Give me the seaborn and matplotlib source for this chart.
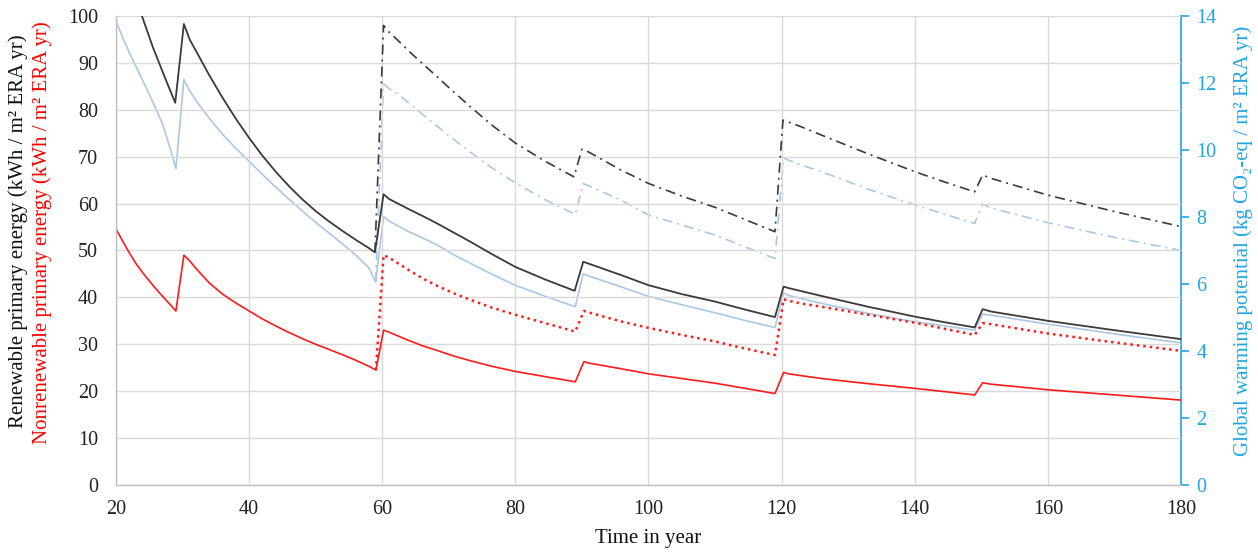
import seaborn as sns
import matplotlib.pyplot as plt

# renewable primary energy (left axis, kWh / m2 ERA yr)
ren_x = [23.9, 25.5, 27.6, 28.9, 30.2, 31.1, 32, 34, 36, 38, 40, 42, 44, 46, 48, 50, 52, 54, 56, 58,
         58.9, 60.2, 61, 64, 66, 68.2, 70.5, 73.2, 76.5, 80, 84.5, 88.9, 90.2, 91, 95.8, 100, 105,
         110, 114.5, 119, 120.3, 121, 126, 133, 140, 144.5, 149, 150.2, 151.4, 160, 170, 180]
ren_y = [100, 93.5, 86.0, 81.5, 98.3, 94.9, 92.6, 87.4, 82.6, 78.1, 74.0, 70.2, 66.8, 63.7, 60.9,
         58.4, 56.2, 54.2, 52.3, 50.5, 49.6, 62.0, 61.0, 58.8, 57.4, 55.8, 54.0, 51.9, 49.2, 46.5,
         43.8, 41.4, 47.6, 47.2, 44.8, 42.6, 40.7, 39.1, 37.4, 35.8, 42.3, 42.0, 40.3, 38.0, 35.9,
         34.7, 33.6, 37.5, 37.0, 35.0, 33.0, 31.1]

# renewable primary energy, second scenario (dash-dot)
ren2_x = [58.9, 60.2, 61, 62.5, 64, 66, 68.2, 70.5, 73.2, 76.5, 80, 84.5, 88.8, 90.0, 91, 95.8,
          100, 105, 110, 114.5, 119, 120.2, 121, 122.9, 126, 133, 140, 144.5, 149, 150.2, 151.4,
          160, 170, 180]
ren2_y = [49.6, 98.0, 96.6, 94.6, 92.5, 89.9, 87.1, 84.1, 80.7, 76.7, 72.9, 69.0, 65.7, 71.6, 71.0,
          67.2, 64.3, 61.6, 59.2, 56.6, 54.0, 77.8, 77.4, 76.4, 74.6, 70.6, 66.8, 64.6, 62.5, 66.1,
          65.4, 61.8, 58.3, 55.1]

# nonrenewable primary energy (left axis)
nren_x = [20, 21, 22, 23, 24.1, 25.3, 26.5, 27.8, 29.0, 30.2, 31, 32, 34, 36, 38, 40, 42, 44, 46,
          48, 50, 52, 54, 56, 58, 59.05, 60.2, 61, 64, 66, 68.2, 70.5, 73.2, 76.5, 80, 84.5, 89.0,
          90.3, 91, 95.8, 100, 105, 110, 114.5, 119, 120.3, 121, 126, 133, 140, 144.5, 149, 150.2,
          151.4, 160, 170, 180]
nren_y = [54.6, 52.0, 49.5, 47.2, 45.1, 43.0, 41.0, 39.0, 37.1, 49.0, 47.9, 46.2, 43.1, 40.7, 38.8,
          37.1, 35.4, 33.9, 32.5, 31.2, 30.0, 28.9, 27.8, 26.6, 25.3, 24.5, 33.0, 32.6, 30.8, 29.7,
          28.7, 27.6, 26.5, 25.3, 24.2, 23.1, 22.0, 26.3, 26.0, 24.8, 23.7, 22.7, 21.7, 20.6, 19.5,
          24.0, 23.7, 22.7, 21.6, 20.6, 19.9, 19.2, 21.8, 21.5, 20.3, 19.2, 18.1]

# nonrenewable primary energy, second scenario (dotted)
nren2_x = [59.05, 60.2, 61, 64, 66, 68.2, 70.5, 73.2, 76.5, 80, 84.5, 89.0, 90.3, 91, 95.8, 100,
           105, 110, 114.5, 119, 120.3, 121, 122.9, 126, 133, 140, 144.5, 149, 150.2, 151.4, 160,
           170, 180]
nren2_y = [24.5, 49.0, 48.5, 45.8, 44.1, 42.5, 41.0, 39.5, 37.8, 36.3, 34.5, 32.7, 37.1, 36.8, 34.9,
           33.5, 32.0, 30.6, 29.1, 27.7, 39.6, 39.3, 38.7, 38.0, 36.3, 34.6, 33.3, 32.0, 34.5, 34.3,
           32.3, 30.4, 28.6]

# global warming potential (right axis, kg CO2-eq / m2 ERA yr)
gwp_x = [20, 21, 22, 23, 24, 25, 26, 27, 28.3, 29.0, 30.2, 31, 32, 34, 36, 38, 40, 42, 44, 46, 48,
         50, 52, 54, 56, 58, 59.0, 60.2, 61, 64, 66, 68.2, 70.5, 73.2, 76.5, 80, 84.5, 89.0, 90.2,
         91, 95.8, 100, 105, 110, 114.5, 119, 120.3, 121, 126, 133, 140, 144.5, 149, 150.2, 151.4,
         160, 170, 180]
gwp_y = [13.86, 13.36, 12.91, 12.49, 12.08, 11.66, 11.23, 10.77, 9.94, 9.45, 12.10, 11.79, 11.48,
         10.95, 10.47, 10.05, 9.66, 9.27, 8.89, 8.53, 8.18, 7.84, 7.52, 7.20, 6.87, 6.48, 6.06,
         8.01, 7.88, 7.56, 7.38, 7.17, 6.90, 6.62, 6.29, 5.96, 5.63, 5.32, 6.31, 6.24, 5.92, 5.63,
         5.38, 5.14, 4.91, 4.70, 5.73, 5.66, 5.42, 5.12, 4.87, 4.75, 4.62, 5.10, 5.07, 4.80, 4.51,
         4.24]

# global warming potential, second scenario (dash-dot)
gwp2_x = [59.0, 60.2, 61, 62.5, 64, 66, 68.2, 70.5, 73.2, 76.5, 80, 84.5, 89.0, 90.2, 91, 95.8,
          100, 105, 110, 114.5, 119, 120.3, 121, 122.9, 126, 133, 140, 144.5, 149, 150.2, 151.4,
          160, 170, 180]
gwp2_y = [6.06, 11.97, 11.84, 11.65, 11.40, 11.07, 10.72, 10.35, 9.94, 9.46, 9.02, 8.51, 8.08, 9.00,
          8.93, 8.51, 8.06, 7.76, 7.46, 7.11, 6.76, 9.76, 9.70, 9.55, 9.35, 8.83, 8.36, 8.08, 7.81,
          8.39, 8.27, 7.83, 7.39, 7.00]

sns.set_theme(style="whitegrid")
plt.rcParams["font.family"] = ["Liberation Serif", "DejaVu Serif"]

BLACK = "#3a3a3a"
LBLUE = "#a9c8e8"
RED = "#ff1a1a"
SKY = "#1ea6e6"
FS = 14.5

fig = plt.figure(figsize=(12.58, 5.57), dpi=100)
ax = fig.add_axes([0.0922, 0.1293, 0.8466, 0.842])
ax2 = ax.twinx()

# right axis series
sns.lineplot(x=gwp2_x, y=gwp2_y, ax=ax2, color=LBLUE, linewidth=1.2, estimator=None, sort=False)
ax2.lines[-1].set_dashes([6, 3, 1.2, 3])
sns.lineplot(x=gwp_x, y=gwp_y, ax=ax2, color=LBLUE, linewidth=1.2, estimator=None, sort=False)

# left axis series drawn on top
ax.set_zorder(ax2.get_zorder() + 1)
ax.patch.set_visible(False)
sns.lineplot(x=nren2_x, y=nren2_y, ax=ax, color=RED, linewidth=1.8, estimator=None, sort=False)
ax.lines[-1].set_dashes([1, 1.6])
sns.lineplot(x=nren_x, y=nren_y, ax=ax, color=RED, linewidth=1.2, estimator=None, sort=False)
sns.lineplot(x=ren2_x, y=ren2_y, ax=ax, color=BLACK, linewidth=1.2, estimator=None, sort=False)
ax.lines[-1].set_dashes([6, 3, 1.2, 3])
sns.lineplot(x=ren_x, y=ren_y, ax=ax, color=BLACK, linewidth=1.3, estimator=None, sort=False)

ax.set_xlim(20, 180)
ax.set_ylim(0, 100)
ax.set_xticks(range(20, 181, 20))
ax.set_yticks(range(0, 101, 10))
ax.grid(True, color="#d9d9d9", linewidth=1.0)
ax.tick_params(axis="x", length=0, labelsize=FS, colors="#222222", pad=11)
ax.tick_params(axis="y", length=0, labelsize=FS, colors="#222222", pad=13)
for s in ["top", "right"]:
    ax.spines[s].set_visible(False)
for s in ["left", "bottom"]:
    ax.spines[s].set_color("#bfbfbf")
    ax.spines[s].set_linewidth(1.0)

ax2.set_ylim(0, 14)
ax2.set_yticks(range(0, 15, 2))
ax2.grid(False)
ax2.tick_params(axis="y", colors=SKY, labelcolor=SKY, length=6, width=1.2,
                direction="out", labelsize=FS, pad=5)
for s in ["top", "left", "bottom"]:
    ax2.spines[s].set_visible(False)
ax2.spines["right"].set_color(SKY)
ax2.spines["right"].set_linewidth(1.3)

ax.set_xlabel("Time in year", fontsize=15, color="#111111", labelpad=7)
ax.set_ylabel("")

fig.text(0.0145, 0.585, "Renewable primary energy (kWh / m² ERA yr)", rotation=90,
         ha="center", va="center", fontsize=15, color="#111111")
fig.text(0.0335, 0.582, "Nonrenewable primary energy (kWh / m² ERA yr)", rotation=90,
         ha="center", va="center", fontsize=15, color="#ff0000")
fig.text(0.988, 0.567, "Global warming potential (kg CO₂-eq / m² ERA yr)", rotation=90,
         ha="center", va="center", fontsize=15, color=SKY)

fig.savefig("out.png", dpi=100)
